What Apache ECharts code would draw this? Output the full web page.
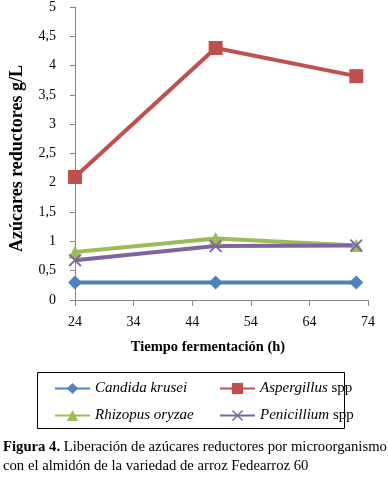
<!DOCTYPE html>
<html>
<head>
<meta charset="utf-8">
<script src="https://cdn.jsdelivr.net/npm/echarts@6/dist/echarts.min.js"></script>
<style>
    html, body { margin: 0; padding: 0; background: #fff; }
    #chart { width: 388px; height: 479px; }
</style>
</head>
<body>
<div id="chart"></div>
<script>
// datos
const hours = [24, 48, 72]
const candida = [0.30, 0.30, 0.30]
const aspergillus = [2.10, 4.30, 3.82]
const rhizopus = [0.82, 1.05, 0.93]
const penicillium = [0.68, 0.92, 0.93]
const xTicks = [24, 34, 44, 54, 64, 74]
const yTicks = [0, 0.5, 1, 1.5, 2, 2.5, 3, 3.5, 4, 4.5, 5]

const serif = 'Liberation Serif'
const crossPath = 'path://M0,1 L1,0 L5,4 L9,0 L10,1 L6,5 L10,9 L9,10 L5,6 L1,10 L0,9 L4,5 Z'

function pairs (vals) {
    return hours.map((h, i) => [h, vals[i]])
}

function lineSeries (name, vals, color, symbol, size) {
    return {
        name: name,
        type: 'line',
        data: pairs(vals),
        symbol: symbol,
        symbolSize: size,
        lineStyle: { width: 4, color: color },
        itemStyle: { color: color },
        emphasis: { disabled: true },
        z: 2
    }
}

const legendRich = {
    i: { fontFamily: serif, fontStyle: 'italic', fontSize: 15, color: '#000' },
    n: { fontFamily: serif, fontSize: 15, color: '#000' }
}

let myChart = echarts.init(document.getElementById('chart'))
myChart.setOption({
    animation: false,
    grid: { left: 74, right: 20, top: 6, bottom: 179 },
    xAxis: {
        type: 'value',
        min: xTicks[0],
        max: xTicks[xTicks.length - 1],
        interval: 10,
        name: 'Tiempo fermentación (h)',
        nameLocation: 'middle',
        nameGap: 40,
        nameTextStyle: {
            fontFamily: serif, fontWeight: 'bold', fontSize: 14.5, color: '#000',
            padding: [0, 27, 0, 0] // el título va un poco a la izquierda
        },
        axisLine: { lineStyle: { color: '#868686', width: 1 } },
        axisTick: { length: 6, lineStyle: { color: '#868686' } },
        axisLabel: { fontFamily: serif, fontSize: 14, color: '#000', margin: 15 },
        splitLine: { show: false }
    },
    yAxis: {
        type: 'value',
        min: yTicks[0],
        max: yTicks[yTicks.length - 1],
        interval: 0.5,
        name: 'Azúcares reductores g/L',
        nameLocation: 'middle',
        nameGap: 49,
        nameTextStyle: {
            fontFamily: serif, fontWeight: 'bold', fontSize: 18, color: '#000',
            padding: [0, 10, 0, 0] // un poco más abajo que el centro
        },
        axisLine: { show: true, lineStyle: { color: '#868686', width: 1 } },
        axisTick: { show: true, length: 5, lineStyle: { color: '#868686' } },
        axisLabel: {
            fontFamily: serif, fontSize: 14, color: '#000', margin: 19,
            formatter: v => String(v).replace('.', ',')
        },
        splitLine: { show: false }
    },
    legend: [
        {
            data: ['Candida krusei', 'Rhizopus oryzae'],
            orient: 'vertical',
            left: 49,
            top: 376,
            itemGap: 12,
            itemWidth: 35,
            itemHeight: 14,
            formatter: n => '{i|' + n + '}',
            textStyle: { rich: legendRich }
        },
        {
            data: ['Aspergillus', 'Penicillium'],
            orient: 'vertical',
            left: 214,
            top: 376,
            itemGap: 12,
            itemWidth: 35,
            itemHeight: 14,
            formatter: n => '{i|' + n + '}{n| spp}',
            textStyle: { rich: legendRich }
        }
    ],
    graphic: [
        {
            type: 'rect',
            shape: { x: 37.5, y: 372.5, width: 307, height: 56 },
            style: { fill: 'none', stroke: '#000', lineWidth: 1 }
        },
        {
            type: 'text',
            left: 3,
            top: 440,
            style: {
                text: '{b|Figura 4.} Liberación de azúcares reductores por microorganismo',
                rich: {
                    b: { fontFamily: serif, fontWeight: 'bold', fontSize: 14.7, fill: '#000' }
                },
                fontFamily: serif,
                fontSize: 14.7,
                fill: '#000'
            }
        },
        {
            type: 'text',
            left: 3,
            top: 459,
            style: {
                text: 'con el almidón de la variedad de arroz Fedearroz 60',
                fontFamily: serif,
                fontSize: 14.7,
                fill: '#000'
            }
        }
    ],
    series: [
        lineSeries('Candida krusei', candida, '#4F81BD', 'diamond', 14),
        lineSeries('Aspergillus', aspergillus, '#C0504D', 'rect', 14),
        lineSeries('Rhizopus oryzae', rhizopus, '#9BBB59', 'triangle', 13),
        lineSeries('Penicillium', penicillium, '#8064A2', crossPath, 13)
    ]
})
</script>
</body>
</html>
